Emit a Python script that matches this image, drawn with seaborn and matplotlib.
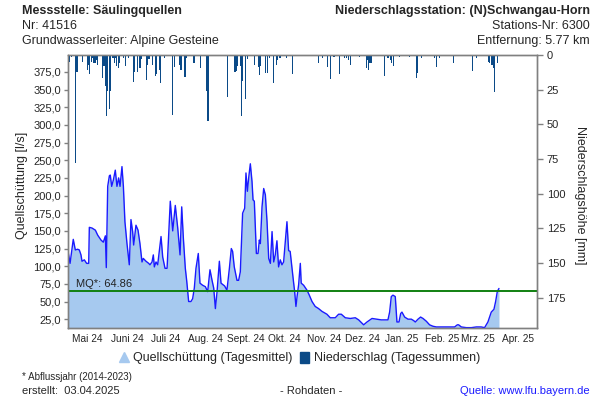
import numpy as np
import pandas as pd
import matplotlib
matplotlib.use("Agg")
import matplotlib.pyplot as plt
import matplotlib.dates as mdates
import matplotlib.ticker as mticker
from matplotlib.lines import Line2D
from matplotlib.patches import Patch
import seaborn as sns

# ---------------- data ----------------
start_date = "2024-05-01"
end_date = "2025-05-01"

# Quellschüttung [l/s] – day offset from 2024-05-01 and value
q_days = [0, 1.6, 4.1, 5.7, 7.5, 8.8, 10.1, 10.9, 12.7, 14.5, 16.1, 16.6, 18.7, 21.3, 23.1,
          25.7, 27.5, 29.1, 29.8, 30.9, 32.2, 32.9, 34.0, 35.3, 36.8, 38.1, 39.4, 40.5, 42.0,
          43.1, 44.3, 45.9, 47.7, 49.0, 50.3, 51.1, 52.9, 54.5, 56.0, 57.6, 58.6, 60.7, 62.8,
          63.8, 65.4, 66.4, 67.2, 68.5, 69.8, 72.4, 73.7, 75.5, 77.1, 79.6, 81.5, 83.5, 85.4,
          87.2, 88.5, 89.8, 91.3, 92.4, 93.9, 95.7, 97.0, 98.3, 99.6, 101.4, 102.7, 104.8,
          106.9, 108.7, 110.5, 112.1, 113.4, 114.7, 116.0, 117.8, 119.1, 121.9, 123.7, 125.6,
          127.1, 128.1, 129.4, 131.5, 132.8, 134.1, 135.9, 137.5, 138.5, 139.6, 140.6, 141.9,
          143.2, 144.0, 145.0, 146.6, 147.9, 148.9, 149.7, 151.0, 152.3, 153.6, 154.9, 156.2,
          157.5, 158.8, 160.1, 161.3, 162.6, 163.9, 165.2, 166.5, 167.8, 169.1, 170.4, 171.7,
          172.9, 174.2, 175.5, 176.4, 177.4, 178.4, 179.5, 180.8, 181.5, 183.4, 186.0, 187.8,
          189.9, 192.4, 195.0, 197.7, 201.5, 204.1, 208.0, 210.6, 212.7, 215.8, 219.7, 223.6,
          226.2, 230.1, 232.7, 236.6, 240.4, 243.8, 249.0, 250.3, 251.6, 252.9, 254.7, 256.0,
          257.6, 258.9, 259.9, 262.0, 264.6, 267.2, 269.0, 270.3, 272.4, 274.4, 276.3, 278.9,
          281.4, 284.0, 286.6, 293.1, 300.9, 303.0, 304.0, 306.1, 310.0, 313.9, 317.8, 321.6,
          324.2, 326.8, 329.4, 331.5, 332.8, 334.1, 335.4]
q_vals = [121, 104, 138, 123, 124, 123, 116, 107, 109, 104, 104, 155, 154, 151, 144,
          137, 134, 143, 98, 213, 228, 229, 213, 222, 236, 213, 225, 213, 241,
          213, 163, 132, 102, 166, 149, 130, 158, 151, 132, 106, 111, 107, 104,
          102, 106, 116, 99, 106, 102, 142, 113, 97, 97, 192, 150, 186, 154,
          116, 184, 139, 97, 79, 50, 50, 54, 69, 97, 118, 76, 73,
          71, 64, 95, 80, 69, 40, 64, 107, 76, 72, 66, 97,
          125, 121, 99, 80, 80, 92, 175, 182, 232, 206, 225, 245,
          220, 194, 192, 118, 118, 137, 132, 184, 210, 201, 163, 111,
          104, 149, 106, 116, 136, 99, 109, 102, 106, 135, 163, 122,
          121, 99, 78, 64, 43, 59, 74, 104, 76, 73, 66, 59,
          50, 43, 40, 36, 32, 27, 27, 32, 32, 27, 26, 27,
          24, 17, 21, 26, 25, 24, 24, 35, 57, 59, 57, 21,
          21, 33, 35, 28, 25, 25, 23, 21, 25, 28, 26, 22,
          17, 15, 14, 14, 14, 17, 17, 14, 13, 13, 14, 14,
          13, 21, 35, 39, 50, 64, 68.5]

# Niederschlag [mm] – day offset from 2024-05-01 and daily sum
p_days = [1, 3, 6, 7, 11, 15, 16, 17, 18, 19, 20, 21, 22, 23, 27, 28, 29, 30, 31, 32, 33, 35,
          36, 37, 38, 39, 40, 43, 45, 47, 51, 52, 54, 56, 57, 61, 62, 63, 66, 68, 69, 71, 72,
          75, 81, 83, 87, 88, 91, 92, 98, 103, 108, 109, 124, 130, 131, 132, 134, 135, 136,
          138, 140, 145, 148, 149, 150, 154, 155, 157, 160, 162, 163, 165, 170, 175, 195, 198,
          202, 204, 207, 211, 215, 217, 218, 220, 227, 232, 233, 234, 235, 236, 246, 249, 251,
          252, 253, 258, 266, 271, 272, 275, 285, 287, 289, 300, 315, 318, 327, 328, 330, 331,
          332, 334]
p_vals = [4.8, 1.5, 78, 12, 5, 10.7, 7, 14, 5, 2, 6, 6, 3.6, 7, 16.7, 8, 22.6, 44, 26, 38.8, 26,
          2.4, 6, 2, 8, 9.5, 6, 2, 8, 2, 19.5, 12.6, 12.6, 9.5, 3, 18, 7, 3, 7, 15, 14, 10.7, 20,
          2.4, 43, 8.8, 7, 10.7, 16, 2, 6, 9.5, 26, 47.6, 30, 12.6, 11.2, 8, 8, 44, 19,
          31.7, 3, 7, 8.3, 14.3, 8, 13, 13, 2.4, 20, 7, 3.5, 2, 2, 13.6, 6, 2,
          8.3, 17.4, 1.5, 13.6, 2.4, 2.4, 3.6, 7, 1.5, 9.5, 3.6, 11, 6, 6, 15, 2.4, 3.6,
          6, 8, 1.5, 1.5, 16.7, 13, 2.4, 2, 8.3, 2, 6, 11.2, 2, 4.8, 6, 7, 9.5,
          27, 6]

mq_value = 64.86
month_labels = ["Mai 24", "Juni 24", "Juli 24", "Aug. 24", "Sept. 24", "Okt. 24",
                "Nov. 24", "Dez. 24", "Jan. 25", "Feb. 25", "Mrz. 25", "Apr. 25"]
left_ticks = [25, 50, 75, 100, 125, 150, 175, 200, 225, 250, 275, 300, 325, 350, 375]
right_ticks = [0, 25, 50, 75, 100, 125, 150, 175]

# ---------------- figure ----------------
sns.set_theme(style="white")
plt.rcParams["font.family"] = ["Liberation Sans", "DejaVu Sans"]

start = pd.Timestamp(start_date)
end = pd.Timestamp(end_date)
df_q = pd.DataFrame({"date": start + pd.to_timedelta(q_days, unit="D"), "q": q_vals})
df_p = pd.DataFrame({"date": start + pd.to_timedelta(p_days, unit="D"), "p": p_vals})

fig = plt.figure(figsize=(6, 4), dpi=100)
ax = fig.add_axes([68 / 600, 72 / 400, 469 / 600, 273 / 400])

fill_col = "#a6c9ef"
line_col = "#1a1aff"
bar_col = "#0b4a87"
grey = "#808080"

ax.fill_between(df_q["date"], df_q["q"], 0, color=fill_col, lw=0, zorder=1)
sns.lineplot(data=df_q, x="date", y="q", ax=ax, color=line_col, lw=1.0, zorder=3)
ax.axhline(mq_value, color="#108010", lw=1.4, zorder=4)
ax.text(start + pd.Timedelta(days=6), mq_value + 2.5, f"MQ*: {mq_value:.2f}",
        fontsize=8, color="#222222", va="bottom", ha="left", zorder=5)

ax.set_xlim(start, end)
ax.set_ylim(12.5, 399)
ax.set_xlabel("")
ax.set_ylabel("")
ax.set_yticks(left_ticks)
ax.yaxis.set_major_formatter(mticker.FuncFormatter(lambda v, p: f"{v:.1f}".replace(".", ",")))

month_starts = pd.date_range(start, end, freq="MS")
mid_months = [d + pd.Timedelta(days=15) for d in month_starts[:-1]]
ax.xaxis.set_major_locator(mticker.FixedLocator(mdates.date2num(month_starts)))
ax.xaxis.set_major_formatter(mticker.NullFormatter())
ax.xaxis.set_minor_locator(mticker.FixedLocator(mdates.date2num(mid_months)))
ax.xaxis.set_minor_formatter(mticker.FixedFormatter(month_labels))
ax.tick_params(axis="x", which="major", length=4, color=grey, width=1, direction="out")
ax.tick_params(axis="x", which="minor", length=0, labelsize=7.3, pad=4)
ax.tick_params(axis="y", which="major", length=3, color=grey, width=1, direction="out",
               labelsize=8, pad=2, left=True)

# precipitation on twin axis (inverted)
ax2 = ax.twinx()
ax2.bar(df_p["date"], df_p["p"], width=0.9, color=bar_col, lw=0, zorder=2)
ax2.set_ylim(197, 0)
ax2.set_yticks(right_ticks)
ax2.yaxis.set_major_formatter(mticker.FuncFormatter(lambda v, p: f"{v:.0f}"))
ax2.tick_params(axis="y", which="major", length=4, color=grey, width=1, direction="out",
                labelsize=8, pad=3, right=True)
ax2.set_xlim(start, end)
ax2.grid(False)
ax.grid(False)

for a in (ax, ax2):
    for s in a.spines.values():
        s.set_color(grey)
        s.set_linewidth(1)
        s.set_visible(True)

# axis titles
fig.text(22 / 600, 1 - 185 / 400, "Quellschüttung [l/s]", rotation=90,
         ha="center", va="center", fontsize=9)
fig.text(580 / 600, 1 - 195 / 400, "Niederschlagshöhe [mm]", rotation=-90,
         ha="center", va="center", fontsize=9)

# header
fig.text(22 / 600, 1 - 11 / 400, "Messstelle: Säulingquellen", fontsize=9,
         fontweight="bold", ha="left", va="center")
fig.text(22 / 600, 1 - 26 / 400, "Nr: 41516", fontsize=9, ha="left", va="center")
fig.text(22 / 600, 1 - 41 / 400, "Grundwasserleiter: Alpine Gesteine", fontsize=9,
         ha="left", va="center")
fig.text(590 / 600, 1 - 11 / 400, "Niederschlagsstation: (N)Schwangau-Horn", fontsize=9,
         fontweight="bold", ha="right", va="center")
fig.text(590 / 600, 1 - 26 / 400, "Stations-Nr: 6300", fontsize=9, ha="right", va="center")
fig.text(590 / 600, 1 - 41 / 400, "Entfernung: 5.77 km", fontsize=9, ha="right", va="center")

# legend
handles = [Line2D([0], [0], marker="^", color="none", markerfacecolor=fill_col,
                  markeredgecolor=fill_col, markersize=7),
           Patch(facecolor=bar_col, edgecolor=bar_col)]
fig.legend(handles, ["Quellschüttung (Tagesmittel)", "Niederschlag (Tagessummen)"],
           loc="center", bbox_to_anchor=(300 / 600, 1 - 358 / 400), ncol=2, frameon=False,
           fontsize=9, handlelength=0.7, handleheight=1.0, handletextpad=0.4,
           columnspacing=0.6, borderpad=0)

# footer
fig.text(22 / 600, 1 - 377 / 400, "* Abflussjahr (2014-2023)", fontsize=7,
         ha="left", va="center")
fig.text(22 / 600, 1 - 391 / 400, "erstellt:  03.04.2025", fontsize=8, ha="left", va="center")
fig.text(311 / 600, 1 - 391 / 400, "- Rohdaten -", fontsize=8, ha="center", va="center")
fig.text(590 / 600, 1 - 391 / 400, "Quelle: www.lfu.bayern.de", fontsize=8, ha="right",
         va="center", color="#1a1aff")

fig.savefig("out.png", dpi=100)
